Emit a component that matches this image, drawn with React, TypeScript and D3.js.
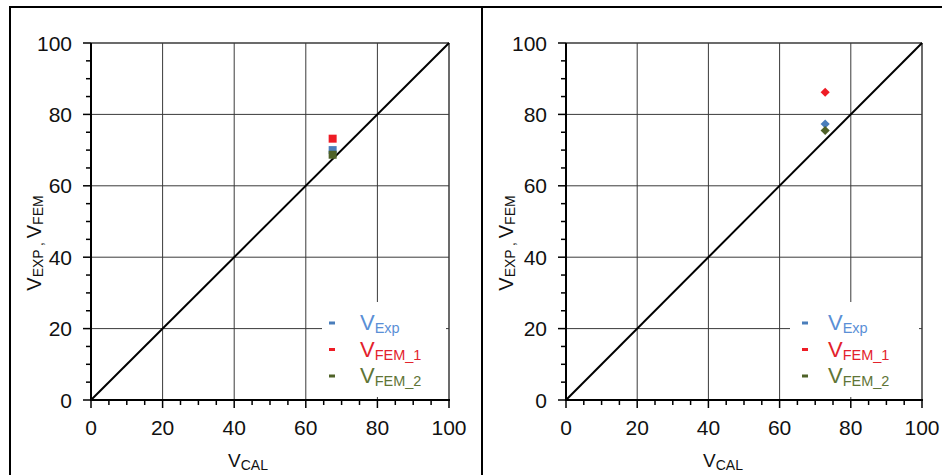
import React from "react";
import * as d3 from "d3";

const seriesNames = ["Exp", "FEM_1", "FEM_2"];
const markerColors = ["#4a7ebb", "#ee1c25", "#4f6228"];
const legendColors = ["#5a8fd6", "#e3222c", "#5f7536"];
const leftVCal = [67.5, 67.5, 67.5];
const leftVVal = [70.0, 73.2, 68.7];
const rightVCal = [72.8, 72.8, 72.8];
const rightVVal = [77.3, 86.2, 75.5];
const tickValues = [0, 20, 40, 60, 80, 100];
const minorTickValues = d3.range(0, 101, 5);

const W = 942;
const H = 475;
const FONT = "'Liberation Sans', Arial, sans-serif";

type PanelProps = {
  left: number;
  plotLeft: number;
  plotWidth: number;
  vcal: number[];
  vval: number[];
  shape: "square" | "diamond";
  legBg: number;
  legDash: number;
  legText: number;
};

function Panel({ left, plotLeft, plotWidth, vcal, vval, shape, legBg, legDash, legText }: PanelProps) {
  const x0 = plotLeft;
  const x1 = x0 + plotWidth;
  const y0 = 400;
  const y1 = 43;
  const x = d3.scaleLinear().domain([0, 100]).range([x0, x1]);
  const y = d3.scaleLinear().domain([0, 100]).range([y0, y1]);
  const diag = d3.line<number>().x((d) => x(d)).y((d) => y(d))([0, 100]) || "";
  const gridVals = [20, 40, 60, 80];
  const sym =
    shape === "square"
      ? d3.symbol(d3.symbolSquare, 64)()
      : d3.symbol(d3.symbolSquare, 42)();
  const rot = shape === "diamond" ? " rotate(45)" : "";
  const order = [0, 1, 2];
  return (
    <g>
      {gridVals.map((v) => (
        <line key={"gx" + v} x1={x(v)} x2={x(v)} y1={y0} y2={y1} stroke="#3a3a3a" strokeWidth={1} />
      ))}
      {gridVals.map((v) => (
        <line key={"gy" + v} x1={x0} x2={x1} y1={y(v)} y2={y(v)} stroke="#3a3a3a" strokeWidth={1} />
      ))}
      <line x1={x0} x2={x1} y1={y1} y2={y1} stroke="#3a3a3a" strokeWidth={1.5} />
      <line x1={x1} x2={x1} y1={y0} y2={y1} stroke="#3a3a3a" strokeWidth={1.5} />
      {/* legend background */}
      <rect x={x0 + legBg} y={302} width={x1 - 3 - (x0 + legBg)} height={95} fill="#fff" />
      <path d={diag} stroke="#000" strokeWidth={2} fill="none" />
      {/* axes */}
      <line x1={x0} x2={x0} y1={y0 + 1} y2={y1} stroke="#000" strokeWidth={2} />
      <line x1={x0 - 1} x2={x1 + 1} y1={y0} y2={y0} stroke="#000" strokeWidth={2} />
      {minorTickValues.map((v) => {
        const major = v % 20 === 0;
        return (
          <g key={"t" + v}>
            <line x1={x0} x2={x0 - (major ? 8 : 5)} y1={y(v)} y2={y(v)} stroke="#000" strokeWidth={1.5} />
            <line x1={x(v)} x2={x(v)} y1={y0} y2={y0 + (major ? 8 : 5)} stroke="#000" strokeWidth={1.5} />
          </g>
        );
      })}
      {tickValues.map((v) => (
        <text key={"yl" + v} x={x0 - 19} y={y(v) + 7.5} fontSize={21} textAnchor="end" fontFamily={FONT} fill="#111">
          {v}
        </text>
      ))}
      {tickValues.map((v) => (
        <text key={"xl" + v} x={x(v)} y={435} fontSize={21} textAnchor="middle" fontFamily={FONT} fill="#111">
          {v}
        </text>
      ))}
      {/* points */}
      {order.map((i) => (
        <path key={"p" + i} d={sym || ""} transform={`translate(${x(vcal[i])},${y(vval[i])})${rot}`} fill={markerColors[i]} />
      ))}
      {/* legend */}
      {seriesNames.map((n, i) => {
        const by = 330 + i * 26.5;
        return (
          <g key={"lg" + i}>
            <rect x={x0 + legDash} y={by - 8.5} width={6} height={3} fill={markerColors[i]} />
            <text x={x0 + legText} y={by} fontFamily={FONT} fill={legendColors[i]} fontSize={22}>
              V
              <tspan fontSize={14.5} dy={3}>{n}</tspan>
            </text>
          </g>
        );
      })}
      {/* x label */}
      <text x={x0 + 137} y={467} fontFamily={FONT} fontSize={19} fill="#111">
        V
        <tspan fontSize={14} dy={3}>CAL</tspan>
      </text>
      {/* y label */}
      <text
        transform={`translate(${left + 31},243) rotate(-90)`}
        textAnchor="middle"
        fontFamily={FONT}
        fontSize={20}
        fill="#111"
      >
        V
        <tspan fontSize={14} dy={2}>EXP</tspan>
        <tspan fontSize={14} dx={5}>,</tspan>
        <tspan fontSize={20} dx={4} dy={-2}>V</tspan>
        <tspan fontSize={14} dy={2}>FEM</tspan>
      </text>
    </g>
  );
}

export default function App() {
  return (
    <svg
      width={W}
      height={H}
      style={{ position: "fixed", left: 0, top: 0, background: "#fff" }}
    >
      <rect x={0} y={0} width={W} height={H} fill="#fff" />
      <Panel left={10} plotLeft={91} plotWidth={358} vcal={leftVCal} vval={leftVVal} shape="square" legBg={231} legDash={238} legText={269} />
      <Panel left={482} plotLeft={566} plotWidth={356} vcal={rightVCal} vval={rightVVal} shape="diamond" legBg={224} legDash={236} legText={262} />
      <line x1={9} x2={W} y1={7} y2={7} stroke="#000" strokeWidth={2} />
      <line x1={10} x2={10} y1={6} y2={H} stroke="#000" strokeWidth={2} />
      <line x1={482} x2={482} y1={6} y2={H} stroke="#000" strokeWidth={2} />
    </svg>
  );
}
